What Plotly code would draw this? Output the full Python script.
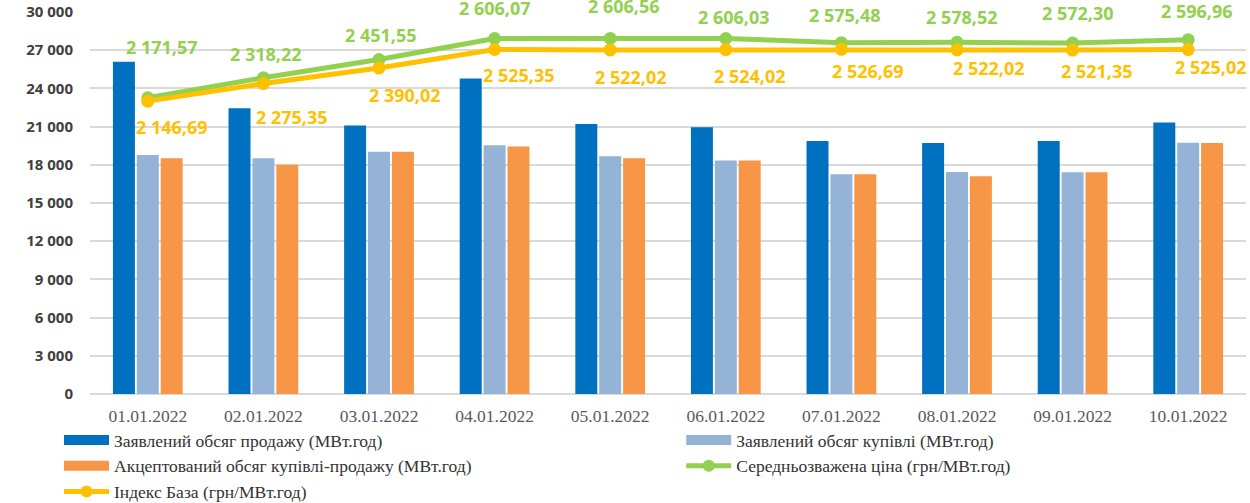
import plotly.graph_objects as go

dates = ["01.01.2022", "02.01.2022", "03.01.2022", "04.01.2022", "05.01.2022",
         "06.01.2022", "07.01.2022", "08.01.2022", "09.01.2022", "10.01.2022"]

sale_declared = [26100, 22450, 21080, 24770, 21200, 20950, 19870, 19720, 19870, 21330]
buy_declared = [18780, 18510, 19030, 19530, 18670, 18330, 17260, 17440, 17410, 19740]
accepted = [18510, 18010, 19030, 19430, 18510, 18330, 17260, 17100, 17410, 19710]

avg_price = [2171.57, 2318.22, 2451.55, 2606.07, 2606.56, 2606.03, 2575.48, 2578.52, 2572.30, 2596.96]
index_base = [2146.69, 2275.35, 2390.02, 2525.35, 2522.02, 2524.02, 2526.69, 2522.02, 2521.35, 2525.02]

# label offsets in px (as placed in the original chart)
green_dx = [14, 3, 2, 0, 14, 8, 4, 5, 5, 9]
green_dy = [51, 24, 25, 30, 32, 21, 28, 25, 30, 29]
yellow_dx = [24, 29, 26, 24, 21, 24, 27, 32, 24, 23]
yellow_dy = [26, 33, 27, 26, 27, 26, 22, 18, 21, 17]

BLUE = "#0070C0"
LBLUE = "#95B3D7"
ORANGE = "#F79646"
GREEN = "#92D050"
YELLOW = "#FFC000"

NAMES = ["Заявлений обсяг продажу (МВт.год)",
         "Заявлений обсяг купівлі (МВт.год)",
         "Акцептований обсяг купівлі-продажу (МВт.год)",
         "Середньозважена ціна (грн/МВт.год)",
         "Індекс База (грн/МВт.год)"]


def fmt(v):
    return f"{v:,.2f}".replace(",", " ").replace(".", ",")


fig = go.Figure()
fig.add_trace(go.Bar(x=dates, y=sale_declared, name=NAMES[0], showlegend=False,
                     marker=dict(color=BLUE, line=dict(width=0))))
fig.add_trace(go.Bar(x=dates, y=buy_declared, name=NAMES[1], showlegend=False,
                     marker=dict(color=LBLUE, line=dict(width=0))))
fig.add_trace(go.Bar(x=dates, y=accepted, name=NAMES[2], showlegend=False,
                     marker=dict(color=ORANGE, line=dict(width=0))))
fig.add_trace(go.Scatter(x=dates, y=avg_price, yaxis="y2", mode="lines+markers",
                         name=NAMES[3], showlegend=False,
                         line=dict(color=GREEN, width=5), marker=dict(size=13, color=GREEN)))
fig.add_trace(go.Scatter(x=dates, y=index_base, yaxis="y2", mode="lines+markers",
                         name=NAMES[4], showlegend=False,
                         line=dict(color=YELLOW, width=5), marker=dict(size=13, color=YELLOW)))

# legend entries (wide rectangles for bars, as in the original)
legend_items = [(NAMES[0], BLUE, "legend", False), (NAMES[2], ORANGE, "legend", False),
                (NAMES[4], YELLOW, "legend", True), (NAMES[1], LBLUE, "legend2", False),
                (NAMES[3], GREEN, "legend2", True)]
for name, color, lg, is_line in legend_items:
    if is_line:
        fig.add_trace(go.Scatter(x=[None], y=[None], mode="lines+markers", name=name, legend=lg,
                                 line=dict(color=color, width=5), marker=dict(size=12, color=color)))
    else:
        fig.add_trace(go.Scatter(x=[None], y=[None], mode="lines", name=name, legend=lg,
                                 line=dict(color=color, width=15)))

annotations = []
for i, d in enumerate(dates):
    annotations.append(dict(x=d, y=avg_price[i], xref="x", yref="y2", text=fmt(avg_price[i]),
                            showarrow=False, xshift=green_dx[i], yshift=green_dy[i],
                            font=dict(family="Open Sans", size=18, color=GREEN, weight="bold")))
    annotations.append(dict(x=d, y=index_base[i], xref="x", yref="y2", text=fmt(index_base[i]),
                            showarrow=False, xshift=yellow_dx[i], yshift=-yellow_dy[i],
                            font=dict(family="Open Sans", size=18, color=YELLOW, weight="bold")))

legend_font = dict(family="Liberation Serif", size=17.5, color="#333333")

# zero margins; the plot area is placed with axis domains so legends never push it
fig.update_layout(
    template="none",
    width=1250, height=503,
    margin=dict(l=0, r=0, t=0, b=0, autoexpand=False),
    plot_bgcolor="white", paper_bgcolor="white",
    separators=", ",
    barmode="group", bargap=0.38, bargroupgap=0.08,
    annotations=annotations,
    legend=dict(orientation="v", x=0.0472, xanchor="left", y=0.161, yanchor="top",
                itemwidth=45, tracegroupgap=0, font=legend_font, bgcolor="rgba(0,0,0,0)"),
    legend2=dict(orientation="v", x=0.545, xanchor="left", y=0.161, yanchor="top",
                 itemwidth=45, tracegroupgap=0, font=legend_font, bgcolor="rgba(0,0,0,0)"),
    xaxis=dict(domain=[0.072, 0.9968], range=[-0.5, 9.5], showgrid=False, showline=False,
               zeroline=False, ticks="", automargin=False,
               tickfont=dict(family="Liberation Serif", size=17.5, color="#595959"),
               ticklabelstandoff=10),
    yaxis=dict(domain=[0.2167, 0.9761], range=[0, 30000], dtick=3000, tickformat=",d",
               showgrid=True, automargin=False,
               gridcolor="#D9D9D9", gridwidth=1.5, zeroline=True, zerolinecolor="#D9D9D9",
               zerolinewidth=1.5, showline=False, ticks="",
               tickfont=dict(family="Open Sans", size=15, color="#404040", weight="bold"),
               ticklabelstandoff=16),
    yaxis2=dict(range=[0, 2800], overlaying="y", side="right", visible=False, automargin=False),
)

# the page body has a default 8px margin; drop it so the figure fills the window
fig.write_html("out.html", config={"displayModeBar": False},
               post_script="document.body.style.margin='0';")
